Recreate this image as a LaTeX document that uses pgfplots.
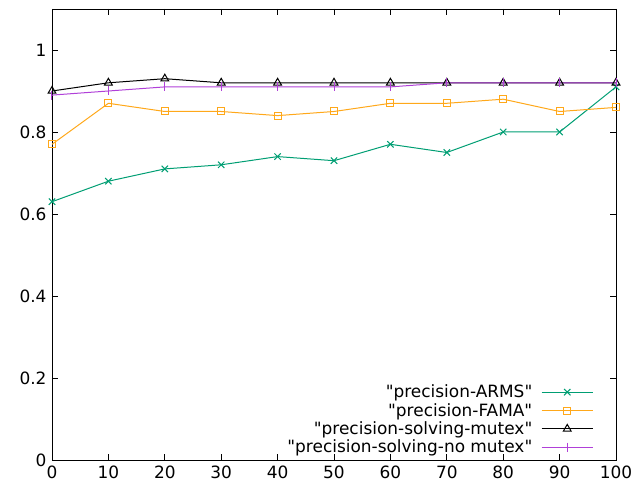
\documentclass[border=0pt]{standalone}
\usepackage{pgfplots}
\pgfplotsset{compat=1.18}
\usepackage{fontspec}
\setmainfont{DejaVu Sans}[Ligatures=TeXOff]
\definecolor{cARMS}{HTML}{009E73}
\definecolor{cFAMA}{HTML}{FFA81A}
\definecolor{cMut}{HTML}{000000}
\definecolor{cNo}{HTML}{B040D8}
\begin{document}
\begin{tikzpicture}[x=1bp,y=1bp]
\begin{axis}[
  at={(0,0)}, anchor=south west,
  scale only axis, width=564bp, height=451bp,
  xmin=0, xmax=100, ymin=0, ymax=1.1,
  xtick={0,10,...,100}, ytick={0,0.2,0.4,0.6,0.8,1},
  yticklabels={0,0.2,0.4,0.6,0.8,1},
  tick align=inside, major tick length=6bp,
  tick pos=both,
  axis line style={line width=0.8bp},
  tick style={line width=0.8bp, black},
  font=\fontsize{17}{18}\selectfont,
  ticklabel style={font=\fontsize{17}{18}\selectfont},
  /pgf/number format/assume math mode=true,
  xticklabel style={yshift=-2bp},
  yticklabel style={xshift=-2bp},
  legend plot pos=right,
  legend cell align=right,
  legend style={draw=none, fill=none, inner sep=0pt, at={(axis description cs:0.96,0.0075)}, anchor=south east,
    row sep=0bp, column sep=7bp},
  legend image code/.code={\draw[mark repeat=2,mark phase=2] plot coordinates {(0bp,0bp) (25.5bp,0bp) (51bp,0bp)};},
  every axis plot/.append style={line width=1bp},
]
\addplot[color=cARMS, mark=x, mark size=4.5bp] coordinates {
(0,0.63) (10,0.68) (20,0.71) (30,0.72) (40,0.74) (50,0.73) (60,0.77) (70,0.75) (80,0.80) (90,0.80) (100,0.91)};
\addlegendentry{"precision-ARMS"}
\addplot[color=cFAMA, mark=square, mark size=3.5bp] coordinates {
(0,0.77) (10,0.87) (20,0.85) (30,0.85) (40,0.84) (50,0.85) (60,0.87) (70,0.87) (80,0.88) (90,0.85) (100,0.86)};
\addlegendentry{"precision-FAMA"}
\addplot[color=cMut, mark=triangle, mark size=4.5bp] coordinates {
(0,0.90) (10,0.92) (20,0.93) (30,0.92) (40,0.92) (50,0.92) (60,0.92) (70,0.92) (80,0.92) (90,0.92) (100,0.92)};
\addlegendentry{"precision-solving-mutex"}
\addplot[color=cNo, mark=|, mark size=4.5bp] coordinates {
(0,0.89) (10,0.90) (20,0.91) (30,0.91) (40,0.91) (50,0.91) (60,0.91) (70,0.92) (80,0.92) (90,0.92) (100,0.92)};
\addlegendentry{"precision-solving-no mutex"}
\end{axis}
\pgfresetboundingbox
\path[use as bounding box] (-52bp,-28bp) rectangle (582bp,460bp);
\end{tikzpicture}
\end{document}
